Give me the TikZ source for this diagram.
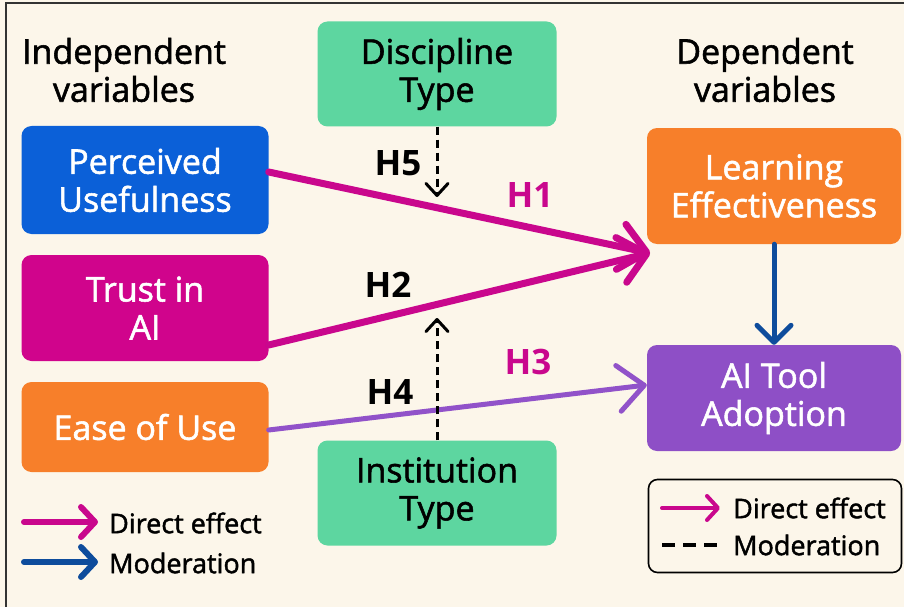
\documentclass[tikz,border=0pt]{standalone}
\usepackage{fontspec}
\setmainfont{Open Sans}
\newfontfamily\boxfont[FakeBold=1.6]{Open Sans}
\usetikzlibrary{arrows.meta,positioning}

\definecolor{paper}{HTML}{FCF6EA}
\definecolor{boxBlue}{HTML}{0B60D8}
\definecolor{boxMagenta}{HTML}{D0048C}
\definecolor{boxOrange}{HTML}{F77F2A}
\definecolor{boxPurple}{HTML}{8E4FC6}
\definecolor{boxGreen}{HTML}{5DD6A0}
\definecolor{arrMagenta}{HTML}{C9078D}
\definecolor{arrPurple}{HTML}{9152C9}
\definecolor{arrBlue}{HTML}{0E4C9C}

\begin{document}
\begin{tikzpicture}[
  x=1pt, y=-1pt,
  every node/.style={font=\boxfont\fontsize{34}{38}\selectfont, align=center, inner sep=0pt},
  varbox/.style={rounded corners=10pt, minimum width=247pt, text=white},
  outbox/.style={rounded corners=10pt, minimum width=254pt, text=white},
  modbox/.style={rounded corners=10pt, minimum width=239pt, minimum height=105pt, fill=boxGreen},
  hlabel/.style={font=\fontsize{35}{38}\selectfont\bfseries},
  direct/.style={line width=7pt, arrMagenta, line cap=round,
    -{Straight Barb[length=26pt, width=46pt, line cap=round, line join=round]}},
  moder/.style={line width=3pt, dash pattern=on 8pt off 5pt,
    -{Straight Barb[length=12pt, width=22pt, line cap=round, line join=round, sep=0pt]}},
  keytext/.style={font=\boxfont\fontsize{27}{30}\selectfont, anchor=west}
]
\useasboundingbox (0,0) rectangle (904,607);
\fill[paper] (0,0) rectangle (904,607);
\draw[line width=1.3pt, black!80] (6,607) -- (6,3) -- (904,3);

% headings
\node (indep) at (124,70) {Independent\\variables};
\node (dep) at (765,70) {Dependent\\variables};

% independent variables
\node[varbox, fill=boxBlue, minimum height=108pt] (pu) at (145,180) {Perceived\\Usefulness};
\node[varbox, fill=boxMagenta, minimum height=106pt] (trust) at (145,308) {Trust in\\AI};
\node[varbox, fill=boxOrange, minimum height=90pt] (ease) at (145,427) {Ease of Use};

% dependent variables
\node[outbox, fill=boxOrange, minimum height=116pt] (learn) at (774,186) {Learning\\Effectiveness};
\node[outbox, fill=boxPurple, minimum height=106pt] (adopt) at (774,398) {AI Tool\\Adoption};

% moderators
\node[modbox] (disc) at (437,74) {Discipline\\Type};
\node[modbox] (inst) at (437,493) {Institution\\Type};

% direct effects
\coordinate (hit) at (650,253);
\draw[direct] ([yshift=8pt]pu.east) -- (hit);
\draw[direct] ([yshift=-37pt]trust.east) -- (hit);
\draw[direct, arrPurple, line width=5pt] ([yshift=-3pt]ease.east) -- ([yshift=13pt]adopt.west);
\draw[direct, arrBlue, line width=5pt,
  -{Straight Barb[length=17pt, width=34pt, line cap=round, line join=round]}]
  (learn.south) -- (adopt.north);

% moderation
\coordinate (m5) at (437,197);
\coordinate (m4) at (437,318);
\draw[moder] (disc.south) -- (m5);
\draw[moder] (inst.north) -- (m4);

% hypothesis labels
\node[hlabel] (h5) at (398,163) {H5};
\node[hlabel, text=arrMagenta] (h1) at (530,195) {H1};
\node[hlabel] (h2) at (388,285) {H2};
\node[hlabel, text=arrMagenta] (h3) at (528,362) {H3};
\node[hlabel] (h4) at (390,392) {H4};

% left key
\coordinate (ka) at (24,522);
\coordinate (kb) at (24,562);
\draw[direct, line width=6pt,
  -{Straight Barb[length=14pt, width=30pt, line cap=round, line join=round]}]
  (ka) -- ++(74,0);
\draw[direct, arrBlue, line width=6pt,
  -{Straight Barb[length=14pt, width=30pt, line cap=round, line join=round]}]
  (kb) -- ++(74,0);
\node[keytext] (ktop) at (109,523) {Direct effect};
\node[keytext] (kbot) at (109,563) {Moderation};

% right key
\node[draw, line width=1.6pt, rounded corners=9pt, minimum width=253pt,
  minimum height=93pt] (legend) at (775,526) {};
\coordinate (la) at (662,508);
\coordinate (lb) at (662,545);
\draw[direct, line width=4pt,
  -{Straight Barb[length=11pt, width=24pt, line cap=round, line join=round]}]
  (la) -- ++(58,0);
\draw[line width=4pt, dash pattern=on 13pt off 8pt] (lb) -- ++(60,0);
\node[keytext] (ltop) at (733,508) {Direct effect};
\node[keytext] (lbot) at (733,545) {Moderation};
\end{tikzpicture}
\end{document}
